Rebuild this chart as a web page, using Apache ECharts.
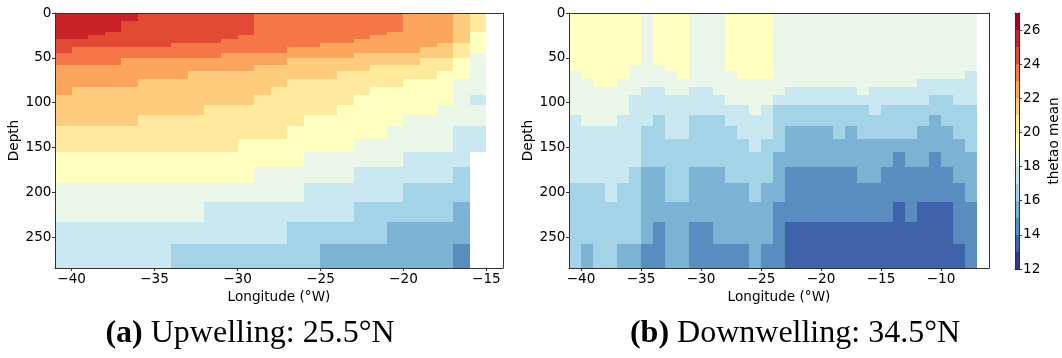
<!DOCTYPE html>
<html><head><meta charset="utf-8">
<script src="https://cdn.jsdelivr.net/npm/echarts@6/dist/echarts.min.js"></script>
<style>html,body{margin:0;padding:0;background:#fff}#c{width:1062px;height:358px}</style>
</head><body><div id="c"></div>
<script>
// ---------------- DATA ----------------
// model depth levels (m), cell centres
const depth = [0.506, 1.556, 2.668, 3.856, 5.140, 6.543, 8.093, 9.823, 11.774, 13.991, 16.525, 19.430, 22.758, 26.558, 30.875, 35.740, 41.180, 47.212, 53.851, 61.113, 69.022, 77.611, 86.929, 97.041, 108.030, 120.000, 133.076, 147.406, 163.164, 180.550, 199.790, 221.141, 244.891, 271.356];
// longitude cell centres
const lonA = [-40.5,-39.5,-38.5,-37.5,-36.5,-35.5,-34.5,-33.5,-32.5,-31.5,-30.5,-29.5,-28.5,-27.5,-26.5,-25.5,-24.5,-23.5,-22.5,-21.5,-20.5,-19.5,-18.5,-17.5,-16.5,-15.5];
const lonB = [-40.5,-39.5,-38.5,-37.5,-36.5,-35.5,-34.5,-33.5,-32.5,-31.5,-30.5,-29.5,-28.5,-27.5,-26.5,-25.5,-24.5,-23.5,-22.5,-21.5,-20.5,-19.5,-18.5,-17.5,-16.5,-15.5,-14.5,-13.5,-12.5,-11.5,-10.5,-9.5,-8.5,-7.5];
const lonRangeA = [-41, -14];
const lonRangeB = [-41, -6];
const xTicksA = [-40, -35, -30, -25, -20, -15];
const xTicksB = [-40, -35, -30, -25, -20, -15, -10];
const depthTicks = [0, 50, 100, 150, 200, 250];
const cbarLevels = [12,13,14,15,16,17,18,19,20,21,22,23,24,25,26,27];
const cbarTicks = [12, 14, 16, 18, 20, 22, 24, 26];
const titleA = ['(a)', ' Upwelling: 25.5°N'];
const titleB = ['(b)', ' Downwelling: 34.5°N'];

// thetao mean (°C), one array per longitude column, top to bottom over depth levels
const thetaA = [
[25.5,25.5,25.5,25.5,25.5, 25.5,25.5,25.5,25.5,25.5, 25.5,25.5,25.5,25.5, 24.5,24.5,24.5, 23.5,23.5, 22.5,22.5,22.5,22.5, 21.5,21.5,21.5, 20.5,20.5, 19.5,19.5, 18.5,18.5, 17.5,17.5],
[25.5,25.5,25.5,25.5,25.5, 25.5,25.5,25.5,25.5,25.5, 25.5,25.5,25.5,25.5, 24.5,24.5, 23.5,23.5,23.5, 22.5,22.5,22.5, 21.5,21.5,21.5,21.5, 20.5,20.5, 19.5,19.5, 18.5,18.5, 17.5,17.5],
[25.5,25.5,25.5,25.5,25.5, 25.5,25.5,25.5,25.5,25.5, 25.5,25.5,25.5, 24.5,24.5,24.5, 23.5,23.5,23.5, 22.5,22.5,22.5, 21.5,21.5,21.5,21.5, 20.5,20.5, 19.5,19.5, 18.5,18.5, 17.5,17.5],
[25.5,25.5,25.5,25.5,25.5, 25.5,25.5,25.5,25.5,25.5, 25.5,25.5, 24.5,24.5,24.5,24.5, 23.5,23.5,23.5, 22.5,22.5,22.5, 21.5,21.5,21.5,21.5, 20.5,20.5, 19.5,19.5, 18.5,18.5, 17.5,17.5],
[25.5,25.5,25.5,25.5,25.5, 25.5,25.5, 24.5,24.5,24.5,24.5,24.5, 24.5,24.5,24.5,24.5, 23.5,23.5, 22.5,22.5,22.5,22.5, 21.5,21.5,21.5,21.5, 20.5,20.5, 19.5,19.5, 18.5,18.5, 17.5,17.5],
[24.5,24.5,24.5,24.5,24.5, 24.5,24.5,24.5,24.5,24.5, 24.5,24.5,24.5,24.5,24.5, 24.5, 23.5,23.5, 22.5,22.5,22.5, 21.5,21.5,21.5,21.5, 20.5,20.5,20.5, 19.5,19.5, 18.5,18.5, 17.5,17.5],
[24.5,24.5,24.5,24.5,24.5, 24.5,24.5,24.5,24.5,24.5, 24.5,24.5,24.5,24.5,24.5, 24.5, 23.5,23.5, 22.5,22.5,22.5, 21.5,21.5,21.5,21.5, 20.5,20.5,20.5, 19.5,19.5, 18.5,18.5, 17.5,17.5],
[24.5,24.5,24.5,24.5,24.5, 24.5,24.5,24.5,24.5,24.5, 24.5,24.5,24.5,24.5,24.5, 23.5,23.5,23.5, 22.5,22.5,22.5, 21.5,21.5,21.5,21.5, 20.5,20.5,20.5, 19.5,19.5, 18.5,18.5, 17.5, 16.5],
[24.5,24.5,24.5,24.5,24.5, 24.5,24.5,24.5,24.5,24.5, 24.5,24.5,24.5,24.5,24.5, 23.5,23.5,23.5, 22.5,22.5, 21.5,21.5,21.5,21.5,21.5, 20.5,20.5,20.5, 19.5,19.5, 18.5,18.5, 17.5, 16.5],
[24.5,24.5,24.5,24.5,24.5, 24.5,24.5,24.5,24.5,24.5, 24.5,24.5,24.5,24.5,24.5, 23.5,23.5,23.5, 22.5,22.5, 21.5,21.5,21.5,21.5, 20.5,20.5,20.5,20.5, 19.5,19.5, 18.5, 17.5,17.5, 16.5],
[24.5,24.5,24.5,24.5,24.5, 24.5,24.5,24.5,24.5,24.5, 24.5,24.5,24.5,24.5, 23.5,23.5,23.5, 22.5,22.5,22.5, 21.5,21.5,21.5,21.5, 20.5,20.5,20.5,20.5, 19.5,19.5, 18.5, 17.5,17.5, 16.5],
[24.5,24.5,24.5,24.5,24.5, 24.5,24.5,24.5,24.5,24.5, 24.5,24.5,24.5, 23.5,23.5,23.5,23.5, 22.5,22.5,22.5, 21.5,21.5,21.5,21.5, 20.5,20.5,20.5, 19.5,19.5,19.5, 18.5, 17.5,17.5, 16.5],
[23.5,23.5,23.5,23.5,23.5, 23.5,23.5,23.5,23.5,23.5, 23.5,23.5,23.5,23.5,23.5, 23.5,23.5, 22.5,22.5, 21.5,21.5,21.5,21.5, 20.5,20.5,20.5,20.5, 19.5,19.5, 18.5,18.5, 17.5,17.5, 16.5],
[23.5,23.5,23.5,23.5,23.5, 23.5,23.5,23.5,23.5,23.5, 23.5,23.5,23.5,23.5,23.5, 23.5,23.5, 22.5,22.5, 21.5,21.5,21.5, 20.5,20.5,20.5,20.5,20.5, 19.5,19.5, 18.5,18.5, 17.5,17.5, 16.5],
[23.5,23.5,23.5,23.5,23.5, 23.5,23.5,23.5,23.5,23.5, 23.5,23.5,23.5,23.5,23.5, 23.5, 22.5,22.5, 21.5,21.5,21.5, 20.5,20.5,20.5,20.5,20.5, 19.5,19.5,19.5, 18.5,18.5, 17.5, 16.5,16.5],
[23.5,23.5,23.5,23.5,23.5, 23.5,23.5,23.5,23.5,23.5, 23.5,23.5,23.5,23.5,23.5, 23.5, 22.5,22.5, 21.5,21.5,21.5, 20.5,20.5,20.5,20.5, 19.5,19.5,19.5, 18.5,18.5, 17.5,17.5, 16.5,16.5],
[23.5,23.5,23.5,23.5,23.5, 23.5,23.5,23.5,23.5,23.5, 23.5,23.5,23.5,23.5,23.5, 22.5,22.5,22.5, 21.5,21.5,21.5, 20.5,20.5,20.5,20.5, 19.5,19.5,19.5, 18.5,18.5, 17.5,17.5, 16.5, 15.5],
[23.5,23.5,23.5,23.5,23.5, 23.5,23.5,23.5,23.5,23.5, 23.5,23.5,23.5,23.5,23.5, 22.5,22.5,22.5, 21.5,21.5, 20.5,20.5,20.5,20.5, 19.5,19.5,19.5,19.5, 18.5,18.5, 17.5,17.5, 16.5, 15.5],
[23.5,23.5,23.5,23.5,23.5, 23.5,23.5,23.5,23.5,23.5, 23.5,23.5,23.5,23.5, 22.5,22.5,22.5, 21.5,21.5,21.5, 20.5,20.5,20.5, 19.5,19.5,19.5,19.5, 18.5,18.5, 17.5,17.5, 16.5,16.5, 15.5],
[23.5,23.5,23.5,23.5,23.5, 23.5,23.5,23.5,23.5,23.5, 23.5,23.5,23.5, 22.5,22.5,22.5,22.5, 21.5,21.5, 20.5,20.5,20.5, 19.5,19.5,19.5,19.5,19.5, 18.5,18.5, 17.5,17.5, 16.5,16.5, 15.5],
[23.5,23.5,23.5,23.5,23.5, 23.5,23.5,23.5,23.5,23.5, 23.5,23.5, 22.5,22.5,22.5,22.5,22.5, 21.5,21.5, 20.5,20.5,20.5, 19.5,19.5,19.5,19.5, 18.5,18.5,18.5, 17.5,17.5, 16.5, 15.5,15.5],
[22.5,22.5,22.5,22.5,22.5, 22.5,22.5,22.5,22.5,22.5, 22.5,22.5,22.5,22.5,22.5, 22.5,22.5, 21.5,21.5, 20.5,20.5, 19.5,19.5,19.5,19.5, 18.5,18.5,18.5, 17.5,17.5, 16.5,16.5, 15.5,15.5],
[22.5,22.5,22.5,22.5,22.5, 22.5,22.5,22.5,22.5,22.5, 22.5,22.5,22.5,22.5,22.5, 22.5, 21.5,21.5, 20.5,20.5,20.5, 19.5,19.5,19.5,19.5, 18.5,18.5,18.5, 17.5,17.5, 16.5,16.5, 15.5,15.5],
[22.5,22.5,22.5,22.5,22.5, 22.5,22.5,22.5,22.5,22.5, 22.5,22.5,22.5,22.5,22.5, 21.5,21.5,21.5, 20.5,20.5, 19.5,19.5,19.5,19.5, 18.5,18.5,18.5,18.5, 17.5,17.5, 16.5,16.5, 15.5,15.5],
[21.5,21.5,21.5,21.5,21.5, 21.5,21.5,21.5,21.5,21.5, 21.5,21.5,21.5,21.5,21.5, 20.5,20.5,20.5, 19.5,19.5,19.5, 18.5,18.5,18.5,18.5,18.5, 17.5,17.5,17.5, 16.5,16.5, 15.5,15.5, 14.5],
[20.5,20.5,20.5,20.5,20.5, 20.5,20.5,20.5,20.5,20.5, 20.5,20.5, 19.5,19.5,19.5,19.5,19.5, 18.5,18.5,18.5,18.5,18.5,18.5, 17.5, 18.5,18.5, 17.5,17.5, null,null,null,null,null,null]
];

const thetaB = [
[19.5,19.5,19.5,19.5,19.5, 19.5,19.5,19.5,19.5,19.5, 19.5,19.5,19.5,19.5,19.5, 19.5,19.5,19.5,19.5,19.5, 18.5,18.5,18.5,18.5,18.5, 17.5,17.5,17.5,17.5,17.5, 16.5,16.5,16.5,16.5],
[19.5,19.5,19.5,19.5,19.5, 19.5,19.5,19.5,19.5,19.5, 19.5,19.5,19.5,19.5,19.5, 19.5,19.5,19.5,19.5,19.5, 19.5, 18.5,18.5,18.5,18.5,18.5, 17.5,17.5,17.5,17.5, 16.5,16.5,16.5, 15.5],
[19.5,19.5,19.5,19.5,19.5, 19.5,19.5,19.5,19.5,19.5, 19.5,19.5,19.5,19.5,19.5, 19.5,19.5,19.5,19.5,19.5, 19.5,19.5, 18.5,18.5,18.5,18.5, 17.5,17.5,17.5,17.5, 16.5,16.5,16.5,16.5],
[19.5,19.5,19.5,19.5,19.5, 19.5,19.5,19.5,19.5,19.5, 19.5,19.5,19.5,19.5,19.5, 19.5,19.5,19.5,19.5,19.5, 19.5,19.5, 18.5,18.5,18.5,18.5, 17.5,17.5,17.5,17.5,17.5, 16.5,16.5,16.5],
[19.5,19.5,19.5,19.5,19.5, 19.5,19.5,19.5,19.5,19.5, 19.5,19.5,19.5,19.5,19.5, 19.5,19.5,19.5,19.5,19.5, 19.5, 18.5,18.5,18.5,18.5, 17.5,17.5,17.5,17.5,17.5, 16.5,16.5,16.5, 15.5],
[19.5,19.5,19.5,19.5,19.5, 19.5,19.5,19.5,19.5,19.5, 19.5,19.5,19.5,19.5,19.5, 19.5,19.5,19.5,19.5, 18.5,18.5,18.5,18.5, 17.5,17.5,17.5,17.5,17.5,17.5, 16.5,16.5,16.5,16.5, 15.5],
[18.5,18.5,18.5,18.5,18.5, 18.5,18.5,18.5,18.5,18.5, 18.5,18.5,18.5,18.5,18.5, 18.5,18.5,18.5,18.5,18.5, 18.5,18.5, 17.5,17.5,17.5,17.5, 16.5,16.5,16.5, 15.5,15.5,15.5,15.5, 14.5],
[19.5,19.5,19.5,19.5,19.5, 19.5,19.5,19.5,19.5,19.5, 19.5,19.5,19.5,19.5,19.5, 19.5,19.5,19.5,19.5, 18.5,18.5,18.5, 17.5,17.5,17.5, 16.5,16.5,16.5,16.5, 15.5,15.5,15.5, 14.5,14.5],
[19.5,19.5,19.5,19.5,19.5, 19.5,19.5,19.5,19.5,19.5, 19.5,19.5,19.5,19.5,19.5, 19.5,19.5,19.5,19.5,19.5, 18.5,18.5,18.5, 17.5,17.5,17.5,17.5, 16.5,16.5,16.5,16.5, 15.5,15.5,15.5],
[19.5,19.5,19.5,19.5,19.5, 19.5,19.5,19.5,19.5,19.5, 19.5,19.5,19.5,19.5,19.5, 19.5,19.5,19.5,19.5,19.5, 19.5, 18.5,18.5, 17.5,17.5,17.5,17.5, 16.5,16.5,16.5,16.5, 15.5,15.5,15.5],
[18.5,18.5,18.5,18.5,18.5, 18.5,18.5,18.5,18.5,18.5, 18.5,18.5,18.5,18.5,18.5, 18.5,18.5,18.5,18.5,18.5, 18.5,18.5, 17.5,17.5,17.5, 16.5,16.5,16.5,16.5, 15.5,15.5,15.5, 14.5,14.5],
[18.5,18.5,18.5,18.5,18.5, 18.5,18.5,18.5,18.5,18.5, 18.5,18.5,18.5,18.5,18.5, 18.5,18.5,18.5,18.5,18.5, 18.5,18.5, 17.5,17.5,17.5, 16.5,16.5,16.5,16.5, 15.5,15.5,15.5, 14.5,14.5],
[18.5,18.5,18.5,18.5,18.5, 18.5,18.5,18.5,18.5,18.5, 18.5,18.5,18.5,18.5,18.5, 18.5,18.5,18.5,18.5,18.5, 18.5,18.5,18.5, 17.5,17.5, 16.5,16.5,16.5,16.5, 15.5,15.5,15.5,15.5, 14.5],
[19.5,19.5,19.5,19.5,19.5, 19.5,19.5,19.5,19.5,19.5, 19.5,19.5,19.5,19.5,19.5, 19.5,19.5,19.5,19.5,19.5, 18.5,18.5,18.5,18.5, 17.5,17.5, 16.5,16.5,16.5,16.5, 15.5,15.5,15.5, 14.5],
[19.5,19.5,19.5,19.5,19.5, 19.5,19.5,19.5,19.5,19.5, 19.5,19.5,19.5,19.5,19.5, 19.5,19.5,19.5,19.5,19.5, 19.5, 18.5,18.5,18.5, 17.5,17.5,17.5, 16.5,16.5,16.5, 15.5,15.5,15.5, 14.5],
[19.5,19.5,19.5,19.5,19.5, 19.5,19.5,19.5,19.5,19.5, 19.5,19.5,19.5,19.5,19.5, 19.5,19.5,19.5,19.5,19.5, 19.5, 18.5,18.5,18.5,18.5, 17.5,17.5,17.5, 16.5,16.5,16.5, 15.5,15.5,15.5],
[19.5,19.5,19.5,19.5,19.5, 19.5,19.5,19.5,19.5,19.5, 19.5,19.5,19.5,19.5,19.5, 19.5,19.5,19.5,19.5,19.5, 19.5, 18.5,18.5,18.5, 17.5,17.5,17.5, 16.5,16.5,16.5, 15.5,15.5,15.5, 14.5],
[18.5,18.5,18.5,18.5,18.5, 18.5,18.5,18.5,18.5,18.5, 18.5,18.5,18.5,18.5,18.5, 18.5,18.5,18.5,18.5,18.5, 18.5,18.5,18.5, 17.5, 16.5,16.5,16.5,16.5, 15.5,15.5,15.5, 14.5,14.5,14.5],
[18.5,18.5,18.5,18.5,18.5, 18.5,18.5,18.5,18.5,18.5, 18.5,18.5,18.5,18.5,18.5, 18.5,18.5,18.5,18.5,18.5, 18.5,18.5, 17.5,17.5, 16.5,16.5, 15.5,15.5,15.5, 14.5,14.5,14.5, 13.5,13.5],
[18.5,18.5,18.5,18.5,18.5, 18.5,18.5,18.5,18.5,18.5, 18.5,18.5,18.5,18.5,18.5, 18.5,18.5,18.5,18.5,18.5, 18.5,18.5, 17.5,17.5, 16.5,16.5, 15.5,15.5,15.5, 14.5,14.5,14.5, 13.5,13.5],
[18.5,18.5,18.5,18.5,18.5, 18.5,18.5,18.5,18.5,18.5, 18.5,18.5,18.5,18.5,18.5, 18.5,18.5,18.5,18.5,18.5, 18.5,18.5, 17.5,17.5, 16.5,16.5, 15.5,15.5,15.5, 14.5,14.5,14.5, 13.5,13.5],
[18.5,18.5,18.5,18.5,18.5, 18.5,18.5,18.5,18.5,18.5, 18.5,18.5,18.5,18.5,18.5, 18.5,18.5,18.5,18.5,18.5, 18.5,18.5, 17.5,17.5, 16.5,16.5, 15.5,15.5,15.5, 14.5,14.5,14.5, 13.5,13.5],
[18.5,18.5,18.5,18.5,18.5, 18.5,18.5,18.5,18.5,18.5, 18.5,18.5,18.5,18.5,18.5, 18.5,18.5,18.5,18.5,18.5, 18.5,18.5, 17.5,17.5, 16.5,16.5,16.5, 15.5,15.5, 14.5,14.5,14.5, 13.5,13.5],
[18.5,18.5,18.5,18.5,18.5, 18.5,18.5,18.5,18.5,18.5, 18.5,18.5,18.5,18.5,18.5, 18.5,18.5,18.5,18.5,18.5, 18.5,18.5, 17.5,17.5, 16.5,16.5, 15.5,15.5,15.5, 14.5,14.5,14.5, 13.5,13.5],
[18.5,18.5,18.5,18.5,18.5, 18.5,18.5,18.5,18.5,18.5, 18.5,18.5,18.5,18.5,18.5, 18.5,18.5,18.5,18.5,18.5, 18.5,18.5,18.5, 17.5, 16.5,16.5,16.5, 15.5,15.5,15.5, 14.5,14.5, 13.5,13.5],
[18.5,18.5,18.5,18.5,18.5, 18.5,18.5,18.5,18.5,18.5, 18.5,18.5,18.5,18.5,18.5, 18.5,18.5,18.5,18.5,18.5, 18.5,18.5, 17.5,17.5,17.5, 16.5,16.5, 15.5,15.5,15.5, 14.5,14.5, 13.5,13.5],
[18.5,18.5,18.5,18.5,18.5, 18.5,18.5,18.5,18.5,18.5, 18.5,18.5,18.5,18.5,18.5, 18.5,18.5,18.5,18.5,18.5, 18.5,18.5, 17.5,17.5, 16.5,16.5,16.5, 15.5,15.5, 14.5,14.5,14.5, 13.5,13.5],
[18.5,18.5,18.5,18.5,18.5, 18.5,18.5,18.5,18.5,18.5, 18.5,18.5,18.5,18.5,18.5, 18.5,18.5,18.5,18.5,18.5, 18.5,18.5, 17.5,17.5, 16.5,16.5,16.5, 15.5, 14.5,14.5,14.5, 13.5,13.5,13.5],
[18.5,18.5,18.5,18.5,18.5, 18.5,18.5,18.5,18.5,18.5, 18.5,18.5,18.5,18.5,18.5, 18.5,18.5,18.5,18.5,18.5, 18.5,18.5, 17.5,17.5, 16.5,16.5,16.5, 15.5,15.5, 14.5,14.5,14.5, 13.5,13.5],
[18.5,18.5,18.5,18.5,18.5, 18.5,18.5,18.5,18.5,18.5, 18.5,18.5,18.5,18.5,18.5, 18.5,18.5,18.5,18.5,18.5, 18.5, 17.5,17.5,17.5, 16.5,16.5, 15.5,15.5,15.5, 14.5,14.5, 13.5,13.5,13.5],
[18.5,18.5,18.5,18.5,18.5, 18.5,18.5,18.5,18.5,18.5, 18.5,18.5,18.5,18.5,18.5, 18.5,18.5,18.5,18.5,18.5, 18.5, 17.5,17.5, 16.5,16.5, 15.5,15.5,15.5, 14.5,14.5,14.5, 13.5,13.5,13.5],
[18.5,18.5,18.5,18.5,18.5, 18.5,18.5,18.5,18.5,18.5, 18.5,18.5,18.5,18.5,18.5, 18.5,18.5,18.5,18.5,18.5, 18.5, 17.5,17.5, 16.5,16.5,16.5, 15.5,15.5,15.5, 14.5,14.5, 13.5,13.5,13.5],
[18.5,18.5,18.5,18.5,18.5, 18.5,18.5,18.5,18.5,18.5, 18.5,18.5,18.5,18.5,18.5, 18.5,18.5,18.5,18.5,18.5, 18.5, 17.5,17.5,17.5, 16.5,16.5,16.5, 15.5,15.5,15.5, 14.5,14.5,14.5, 13.5],
[18.5,18.5,18.5,18.5,18.5, 18.5,18.5,18.5,18.5,18.5, 18.5,18.5,18.5,18.5,18.5, 18.5,18.5,18.5,18.5,18.5, 17.5,17.5,17.5,17.5, 16.5,16.5,16.5,16.5, 15.5,15.5,15.5, 14.5,14.5,14.5]
];

// ---------------- CHART ----------------
const cmap = ['#313695','#3f63ab','#598dc0','#7cb3d4','#a3d3e6','#c9e8f2','#e9f6e8','#ffffbf','#fee99d','#fecb7c','#fca55d','#f57647','#e34a33','#c92227','#a50026'];
const FONT = 'DejaVu Sans';
const FS = 13.6;
const LINE = '#333';

[thetaA, thetaB].forEach((t, p) => t.forEach((col, i) => {
  if (col.length !== depth.length) throw new Error('panel ' + p + ' column ' + i + ' has ' + col.length);
}));
if (thetaA.length !== lonA.length || thetaB.length !== lonB.length) throw new Error('column count');

function edges(c) {
  const e = [c[0] - (c[1] - c[0]) / 2];
  for (let i = 1; i < c.length; i++) e.push((c[i - 1] + c[i]) / 2);
  e.push(c[c.length - 1] + (c[c.length - 1] - c[c.length - 2]) / 2);
  return e;
}
const dEdge = edges(depth);
const depthMax = dEdge[dEdge.length - 1];

function cells(lon, theta) {
  const le = edges(lon);
  const out = [];
  lon.forEach((_, i) => theta[i].forEach((v, j) => {
    if (v != null) out.push([le[i], le[i + 1], dEdge[j], dEdge[j + 1], v]);
  }));
  return out;
}
const cbarData = cbarLevels.slice(0, -1).map((v, i) => [0, 1, v, cbarLevels[i + 1], (v + cbarLevels[i + 1]) / 2]);

function renderCell(params, api) {
  const p0 = api.coord([api.value(0), api.value(2)]);
  const p1 = api.coord([api.value(1), api.value(3)]);
  const x0 = Math.round(Math.min(p0[0], p1[0])), x1 = Math.round(Math.max(p0[0], p1[0]));
  const y0 = Math.round(Math.min(p0[1], p1[1])), y1 = Math.round(Math.max(p0[1], p1[1]));
  const c = api.visual('color');
  return {
    type: 'rect',
    shape: { x: x0, y: y0, width: x1 - x0, height: y1 - y0 },
    style: { fill: c }
  };
}
const minusFmt = v => v < 0 ? '\u2212' + Math.abs(v) : String(v);
const txt = { fontFamily: FONT, fontSize: FS, color: '#000' };

function lineAxis(gridIndex, position, min, max, inverse) {
  return {
    type: 'value', gridIndex, position, min, max, inverse: !!inverse, z: 10,
    axisLine: { show: true, onZero: false, lineStyle: { color: LINE, width: 1 } },
    axisTick: { show: false }, axisLabel: { show: false }, splitLine: { show: false }
  };
}
function lonAxis(gridIndex, range, ticks) {
  return {
    type: 'value', gridIndex, position: 'bottom', min: range[0], max: range[1], z: 10,
    name: 'Longitude (°W)', nameLocation: 'middle', nameGap: 17, nameTextStyle: txt,
    axisLine: { show: true, onZero: false, lineStyle: { color: LINE, width: 1 } },
    axisTick: { show: true, length: 3, customValues: ticks, lineStyle: { color: LINE } },
    axisLabel: Object.assign({ customValues: ticks, formatter: minusFmt, margin: 4 }, txt),
    splitLine: { show: false }
  };
}
function depthAxis(gridIndex) {
  return {
    type: 'value', gridIndex, position: 'left', min: 0, max: depthMax, inverse: true, z: 10,
    name: 'Depth', nameLocation: 'middle', nameGap: 31, nameTextStyle: txt,
    axisLine: { show: true, onZero: false, lineStyle: { color: LINE, width: 1 } },
    axisTick: { show: true, length: 3, customValues: depthTicks, lineStyle: { color: LINE } },
    axisLabel: Object.assign({ customValues: depthTicks, margin: 3.5 }, txt),
    splitLine: { show: false }
  };
}

const chart = echarts.init(document.getElementById('c'), null, { renderer: 'canvas' });
chart.setOption({
  animation: false,
  backgroundColor: '#fff',
  grid: [
    { left: 55, top: 13, width: 448, height: 255 },
    { left: 569, top: 13, width: 420, height: 255 },
    { left: 1015, top: 13, width: 14, height: 256 }
  ],
  xAxis: [
    lonAxis(0, lonRangeA, xTicksA),
    lineAxis(0, 'top', lonRangeA[0], lonRangeA[1]),
    lonAxis(1, lonRangeB, xTicksB),
    lineAxis(1, 'top', lonRangeB[0], lonRangeB[1]),
    lineAxis(2, 'bottom', 0, 1),
    lineAxis(2, 'top', 0, 1)
  ],
  yAxis: [
    depthAxis(0),
    lineAxis(0, 'right', 0, depthMax, true),
    depthAxis(1),
    lineAxis(1, 'right', 0, depthMax, true),
    lineAxis(2, 'left', cbarLevels[0], cbarLevels[cbarLevels.length - 1]),
    {
      type: 'value', gridIndex: 2, position: 'right', min: cbarLevels[0], max: cbarLevels[cbarLevels.length - 1], z: 10,
      name: 'thetao mean', nameLocation: 'middle', nameGap: 28, nameRotate: 90, nameTextStyle: txt,
      axisLine: { show: true, onZero: false, lineStyle: { color: LINE, width: 1 } },
      axisTick: { show: true, length: 3, customValues: cbarTicks, lineStyle: { color: LINE } },
      axisLabel: Object.assign({ customValues: cbarTicks, margin: 4 }, txt),
      splitLine: { show: false }
    }
  ],
  visualMap: {
    type: 'piecewise', show: false, dimension: 4, seriesIndex: [0, 1, 2],
    pieces: cmap.map((c, i) => ({ gte: cbarLevels[i], lt: cbarLevels[i + 1], color: c }))
  },
  series: [
    { type: 'custom', xAxisIndex: 0, yAxisIndex: 0, data: cells(lonA, thetaA), encode: { x: [0, 1], y: [2, 3] }, renderItem: renderCell, clip: true, silent: true },
    { type: 'custom', xAxisIndex: 2, yAxisIndex: 2, data: cells(lonB, thetaB), encode: { x: [0, 1], y: [2, 3] }, renderItem: renderCell, clip: true, silent: true },
    { type: 'custom', xAxisIndex: 4, yAxisIndex: 5, data: cbarData, encode: { x: [0, 1], y: [2, 3] }, renderItem: renderCell, clip: true, silent: true }
  ],
  graphic: [
    { type: 'text', x: 250, y: 334, style: { text: '{b|' + titleA[0] + '}' + titleA[1], fontFamily: 'Liberation Serif', fontSize: 32, fill: '#000', align: 'center', verticalAlign: 'middle', rich: { b: { fontWeight: 'bold', fontFamily: 'Liberation Serif', fontSize: 32, fill: '#000' } } } },
    { type: 'text', x: 795, y: 334, style: { text: '{b|' + titleB[0] + '}' + titleB[1], fontFamily: 'Liberation Serif', fontSize: 32, fill: '#000', align: 'center', verticalAlign: 'middle', rich: { b: { fontWeight: 'bold', fontFamily: 'Liberation Serif', fontSize: 32, fill: '#000' } } } }
  ]
});
</script>
</body></html>
